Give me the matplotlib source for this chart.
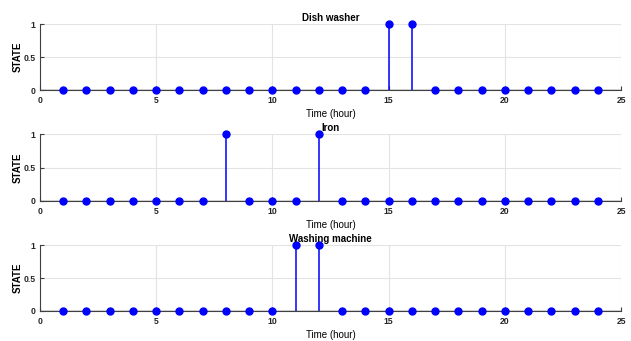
import matplotlib
matplotlib.use("Agg")
import matplotlib.pyplot as plt

plt.rcParams['font.family'] = ['Liberation Sans', 'DejaVu Sans']

hours = list(range(1, 25))
dish_washer = [0]*14 + [1, 1] + [0]*8
iron = [0]*7 + [1] + [0]*3 + [1] + [0]*12
washing_machine = [0]*10 + [1, 1] + [0]*12

titles = ["Dish washer", "Iron", "Washing machine"]
series = [dish_washer, iron, washing_machine]

fig = plt.figure(figsize=(6.31, 3.41), dpi=100)

# axes boxes (left, bottom, width, height)
boxes = [
    [0.0634, 0.736, 0.921, 0.1935],
    [0.0634, 0.4106, 0.921, 0.196],
    [0.0634, 0.088, 0.921, 0.1935],
]

for box, title, vals in zip(boxes, titles, series):
    ax = fig.add_axes(box)
    ml, sl, bl = ax.stem(hours, vals, basefmt=" ")
    plt.setp(ml, color="#0000ff", markersize=5, zorder=3)
    plt.setp(sl, color="#0000ff", linewidth=1.1)
    ax.axhline(0, color="#404040", linewidth=1.0, zorder=2)
    ax.set_xlim(0, 25)
    ax.set_ylim(0, 1)
    ax.set_xticks([0, 5, 10, 15, 20, 25])
    ax.set_yticks([0, 0.5, 1])
    ax.set_yticklabels(["0", "0.5", "1"])
    ax.grid(True, color="#e3e3e3", linewidth=0.8)
    ax.set_axisbelow(True)
    for s in ["top", "right"]:
        ax.spines[s].set_visible(False)
    ax.spines["left"].set_color("#404040")
    ax.spines["bottom"].set_color("#404040")
    ax.tick_params(direction="in", length=3, labelsize=6.2, colors="#404040",
                   labelcolor="#262626", pad=3)
    ax.tick_params(axis="x", pad=4.5)
    for lab in ax.get_xticklabels() + ax.get_yticklabels():
        lab.set_fontweight("bold")
    ax.set_title(title, fontsize=7, fontweight="bold", pad=2)
    ax.set_xlabel("Time (hour)", fontsize=7, labelpad=3)
    ax.set_ylabel("STATE", fontsize=7, fontweight="bold", labelpad=1)
    for art in [ml, sl]:
        art.set_clip_on(False)

fig.savefig("out.png", dpi=100)
